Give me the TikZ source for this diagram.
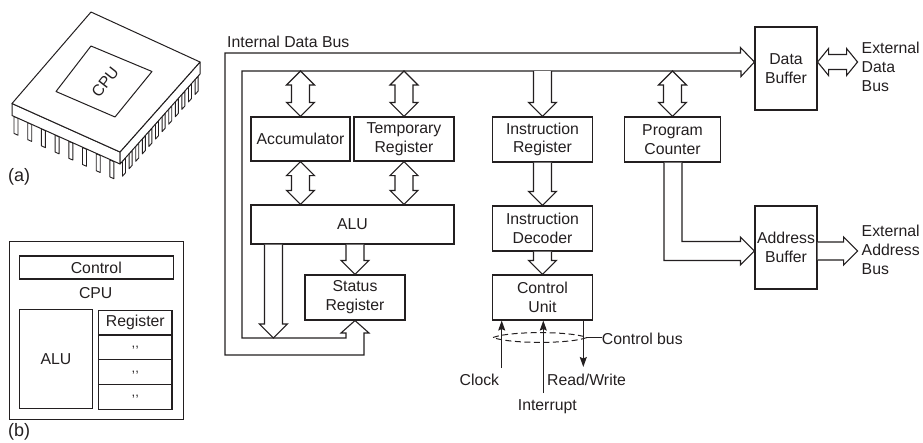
\documentclass[tikz,border=0pt]{standalone}
\usepackage{fontspec}
\setmainfont{Liberation Sans}
\usetikzlibrary{calc,arrows.meta}
\definecolor{ink}{RGB}{35,31,32}

\tikzset{
  every node/.style={text=ink, inner sep=0pt},
  box/.style={draw=ink, line width=1.1pt, fill=white, align=center},
  blk/.style={draw=ink, line width=1.1pt, fill=white, line join=miter},
  sig/.style={draw=ink, line width=1.1pt, -{Stealth[length=10pt,width=7pt,inset=1.5pt]}},
  cbus/.style={draw=ink, line width=1pt, dash pattern=on 6pt off 3.5pt},
  pin/.style={draw=ink, line width=0.9pt, fill=white, line join=round},
  chip/.style={draw=ink, line width=1pt, fill=white, line join=round},
  tiny/.style={font=\fontsize{13}{13}\selectfont},
  caption/.style={font=\fontsize{18}{20}\selectfont},
}

% vertical block arrow with heads at both ends: #1 top point, #2 bottom point
\newcommand{\vdarrow}[2]{%
  \draw[blk] let \p1=#1, \p2=#2 in
    (\x1,\y1) -- (\x1+14pt,\y1-14pt) -- (\x1+9pt,\y1-14pt) -- (\x1+9pt,\y2+14pt)
    -- (\x1+14pt,\y2+14pt) -- (\x1,\y2) -- (\x1-14pt,\y2+14pt) -- (\x1-9pt,\y2+14pt)
    -- (\x1-9pt,\y1-14pt) -- (\x1-14pt,\y1-14pt) -- cycle;}
% vertical block arrow pointing down: #1 top point, #2 bottom point
\newcommand{\sdarrow}[2]{%
  \draw[blk] let \p1=#1, \p2=#2 in
    (\x1-9pt,\y1) -- (\x1-9pt,\y2+14pt) -- (\x1-14pt,\y2+14pt) -- (\x1,\y2)
    -- (\x1+14pt,\y2+14pt) -- (\x1+9pt,\y2+14pt) -- (\x1+9pt,\y1);}

\begin{document}
\begin{tikzpicture}[x=1pt, y=-1pt, font=\fontsize{15.8}{18.8}\selectfont]
\useasboundingbox (0,0) rectangle (923,442);

% ---------- (a) the chip package ----------
\foreach \i in {0,...,7} {
  \pgfmathsetmacro\px{14+13.7*\i}
  \pgfmathsetmacro\py{115.5+0.4537*(\px-12)}
  \draw[pin] (\px,\py) -- ++(0,17) -- ++(4,1.8) -- ++(0,-17) -- cycle;
}
\foreach \i in {0,...,11} {
  \pgfmathsetmacro\px{122.5+6.6*\i}
  \pgfmathsetmacro\py{164-1.125*(\px-120)}
  \draw[pin] (\px,\py) -- ++(0,15) -- ++(3,-3.4) -- ++(0,-15) -- cycle;
}
\draw[chip] (12,103.5) -- (120,152) -- (120,164) -- (12,115.5) -- cycle;
\draw[chip] (120,152) -- (200,62) -- (200,74) -- (120,164) -- cycle;
\draw[chip] (91,12) -- (200,62) -- (120,152) -- (12,103.5) -- cycle;
\draw[chip] (91,46) -- (152,71.5) -- (115,117) -- (56,91.5) -- cycle;
\node[rotate=52] (chiplabel) at (105,82) {CPU};
\node[caption, anchor=base west] (cap-a) at (8,181.5) {(a)};

% ---------- (b) block view ----------
\node[box, minimum width=174pt, minimum height=177.6pt] (cpubox) at (96.3,330.5) {};
\node[box, minimum width=154pt, minimum height=23pt] (ctl) at (96.3,267.5) {Control};
\node (cpulbl) at (95.7,293.3) {CPU};
\node[box, minimum width=73.4pt, minimum height=99pt] (alub) at (56,358.8) {ALU};
\node[box, minimum width=73.3pt, minimum height=24.75pt] (reg0) at (135.3,322.7) {Register};
\node[box, minimum width=73.3pt, minimum height=24.75pt, tiny] (reg1) at (135.3,347.4) {,{},};
\node[box, minimum width=73.3pt, minimum height=24.75pt, tiny] (reg2) at (135.3,372.2) {,{},};
\node[box, minimum width=73.3pt, minimum height=24.75pt, tiny] (reg3) at (135.3,396.9) {,{},};
\node[caption, anchor=base west] (cap-b) at (8,436) {(b)};

% ---------- main architecture ----------
\node[box, minimum width=99pt,  minimum height=44pt] (acc)    at (300.5,139) {Accumulator};
\node[box, minimum width=100pt, minimum height=44pt] (temp)   at (404,139)   {Temporary\\Register};
\node[box, minimum width=203pt, minimum height=39pt] (alu)    at (352.5,224.5) {ALU};
\node[box, minimum width=100pt, minimum height=45pt] (status) at (355,297.5) {Status\\Register};
\node[box, minimum width=100pt, minimum height=45pt] (ir)     at (542.5,139.5) {Instruction\\Register};
\node[box, minimum width=100pt, minimum height=45pt] (id)     at (542.5,228.5) {Instruction\\Decoder};
\node[box, minimum width=100pt, minimum height=45pt] (cu)     at (542.5,297.5) {Control\\Unit};
\node[box, minimum width=96pt,  minimum height=45pt] (pc)     at (672.5,139.5) {Program\\Counter};
\node[box, minimum width=62pt,  minimum height=83pt] (db)     at (786,68.5)  {Data\\Buffer};
\node[box, minimum width=62pt,  minimum height=83pt] (ab)     at (786,247.5) {Address\\Buffer};

\node[anchor=base west] (busname) at (227,47.3) {Internal Data Bus};
\node[anchor=west, align=left] (extdata) at (861.5,67) {External\\Data\\Bus};
\node[anchor=west, align=left] (extaddr) at (861.5,250) {External\\Address\\Bus};

% internal data bus outline
\coordinate (oTL) at (225,53);
\coordinate (oBL) at (225,355);
\coordinate (iTL) at (242,71);
\coordinate (iBL) at (242,338);
\coordinate (dbtip) at ($(db.west)+(0,-6.5)$);
\draw[blk] (dbtip) -- ++(-14,-14.5) -- ++(0,5.5) -- (oTL) -- (oBL)
  -- (364,355) -- (364,333) -- (369,333) -- (status.south) -- (341,333)
  -- (346,333) -- (346,338) -- (iBL) -- (iTL) -- (741,71) -- (741,76.5) -- cycle;

% bus to registers
\vdarrow{(acc.north |- iTL)}{(acc.north)}
\vdarrow{(temp.north |- iTL)}{(temp.north)}
\vdarrow{(acc.south)}{(acc.south |- alu.north)}
\vdarrow{(temp.south)}{(temp.south |- alu.north)}
\vdarrow{(pc.north |- iTL)}{(pc.north)}
\sdarrow{(ir.north |- iTL)}{(ir.north)}
\sdarrow{(ir.south)}{(id.north)}
\sdarrow{(id.south)}{(cu.north)}
\sdarrow{(status.north |- alu.south)}{(status.north)}
\coordinate (aluout) at ($(alu.south west)+(23,0)$);
\sdarrow{(aluout)}{(aluout |- iBL)}

% program counter to address buffer
\coordinate (abtip) at ($(ab.west)+(0,3.5)$);
\draw[blk] ($(pc.south)+(-8.5,0)$) |- ($(abtip)+(-14,9.5)$) -- ++(0,4.5) -- (abtip)
  -- ++(-14,-14) -- ++(0,4.5) -| ($(pc.south)+(9.5,0)$);

% external connections
\coordinate (dbR) at (db.east |- dbtip);
\draw[blk] (dbR) -- ++(11,-13.5) -- ++(0,6) -- ++(18,0) -- ++(0,-6) -- ++(11,13.5)
  -- ++(-11,13.5) -- ++(0,-6) -- ++(-18,0) -- ++(0,6) -- cycle;
\coordinate (abR) at (ab.east |- abtip);
\draw[blk] ($(abR)+(0,-9)$) -- ++(26,0) -- ++(0,-5) -- ($(abR)+(40,0)$)
  -- ++(-14,14) -- ++(0,-5) -- ++(-26,0);

% control signals
\node[anchor=base east] (clock) at (499.3,385.3) {Clock};
\node[anchor=base] (intr) at (547.3,410.5) {Interrupt};
\node[anchor=base west] (rw) at (547,385.3) {Read/Write};
\node[anchor=base west] (cbuslbl) at (601.7,344.6) {Control bus};
\coordinate (clkin) at (501.7,368);
\coordinate (intin) at (543.3,393);
\coordinate (rwout) at (583.3,367);
\draw[sig] (clkin) -- (clkin |- cu.south);
\draw[sig] (intin) -- (intin |- cu.south);
\draw[sig] (rwout |- cu.south) -- (rwout);
\coordinate (cbL) at (493,337.5);
\coordinate (cbR) at (587,337.5);
\draw[cbus] (cbL) .. controls (510,331) and (570,331) .. (cbR)
  .. controls (570,344) and (510,344) .. (cbL);
\draw[draw=ink, line width=1pt] (cbR) -- (cbuslbl.west |- cbR);
\end{tikzpicture}
\end{document}
